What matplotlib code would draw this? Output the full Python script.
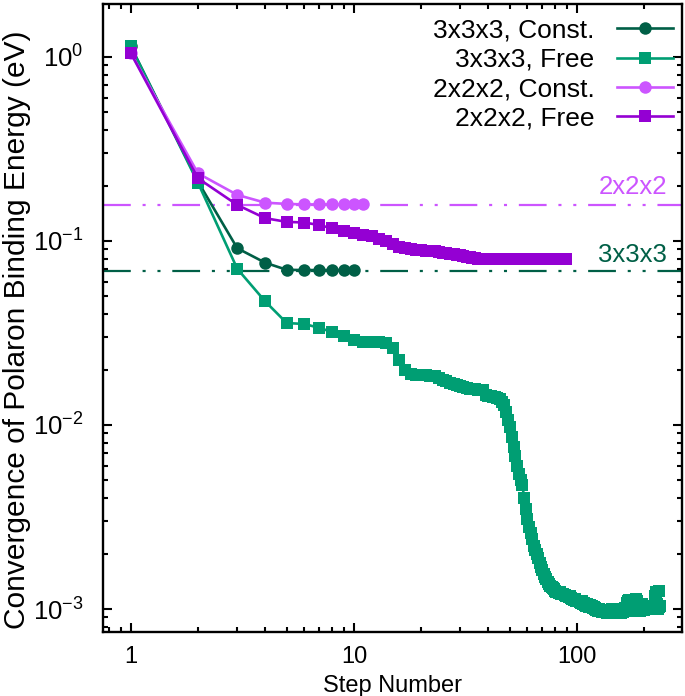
import numpy as np
import matplotlib
matplotlib.use("Agg")
import matplotlib.pyplot as plt
from matplotlib.ticker import LogLocator, NullFormatter, FixedLocator, FixedFormatter

plt.rcParams['font.family'] = ['Liberation Sans', 'DejaVu Sans']
plt.rcParams['mathtext.fontset'] = 'custom'
plt.rcParams['mathtext.rm'] = 'Liberation Sans'
plt.rcParams['mathtext.it'] = 'Liberation Sans'
plt.rcParams['lines.scale_dashes'] = False

# ---------------- data ----------------
labels = ["3x3x3, Const.", "3x3x3, Free", "2x2x2, Const.", "2x2x2, Free"]

const_333 = [1.14, 0.210, 0.0913, 0.0762, 0.0697, 0.0695, 0.0695, 0.0695, 0.0695, 0.0695]

free_333 = [
    1.14, 0.207, 0.0706, 0.047, 0.0358, 0.0354, 0.0337, 0.0320, 0.0303, 0.0290,
    0.0283, 0.0282, 0.0281, 0.0278, 0.0262, 0.0226, 0.0199, 0.0190, 0.0188, 0.0187,
    0.0186, 0.0185, 0.0184, 0.0181, 0.0176, 0.0174, 0.0170, 0.0166, 0.0164, 0.0163,
    0.0160, 0.0158, 0.0157, 0.0156, 0.0156, 0.0155, 0.0155, 0.0154, 0.0146, 0.0144,
    0.0143, 0.0142, 0.0142, 0.0141, 0.0139, 0.0134, 0.0128, 0.0117, 0.0107, 0.0097,
    0.0086, 0.0076, 0.0068, 0.0060, 0.0054, 0.0050, 0.0047, 0.0040, 0.0035, 0.0031,
    0.0028, 0.0026, 0.0024, 0.0022, 0.00209, 0.0020, 0.0019, 0.00178, 0.0017, 0.00163,
    0.00155, 0.0015, 0.00145, 0.0014, 0.00136, 0.00133, 0.00131, 0.0013, 0.00128, 0.00126,
    0.00124, 0.00123, 0.00122, 0.00123, 0.00121, 0.00120, 0.00121, 0.00119, 0.00118, 0.00118,
    0.00117, 0.00116, 0.00117, 0.00115, 0.00114, 0.00113, 0.00112, 0.00113, 0.00111, 0.00110,
    0.00110, 0.00111, 0.00109, 0.00108, 0.00110, 0.00107, 0.00106, 0.00108, 0.00105, 0.00104,
    0.00106, 0.00104, 0.00103, 0.00105, 0.00103, 0.00102, 0.00104, 0.00101, 0.00102, 0.00100,
    0.00101, 0.00099, 0.00100, 0.00098, 0.00100, 0.00099, 0.00097, 0.00099, 0.00098, 0.00096,
    0.00098, 0.00097, 0.00099, 0.00096, 0.00098, 0.00097, 0.00095, 0.00097, 0.00099, 0.00098,
    0.00096, 0.00098, 0.00100, 0.00097, 0.00096, 0.00098, 0.00099, 0.00097, 0.00095, 0.00097,
    0.00098, 0.00100, 0.00099, 0.00097, 0.00096, 0.00098, 0.00095, 0.00097, 0.00099, 0.00098,
    0.00096, 0.00097, 0.00099, 0.00101, 0.00098, 0.00100, 0.00104, 0.00108, 0.00111, 0.00109,
    0.00112, 0.00110, 0.00107, 0.00105, 0.00103, 0.00101, 0.00099, 0.00097, 0.00099, 0.00101,
    0.00103, 0.00105, 0.00108, 0.00111, 0.00113, 0.00110, 0.00107, 0.00104, 0.00101, 0.00098,
    0.00097, 0.00099, 0.00102, 0.00105, 0.00107, 0.00104, 0.00102, 0.00100, 0.00099, 0.00101,
    0.00103, 0.00102, 0.00104, 0.00101, 0.00100, 0.00102, 0.00104, 0.00103, 0.00101, 0.00100,
    0.00102, 0.00101, 0.00103, 0.00102, 0.00100, 0.00102, 0.00101, 0.00103, 0.00104, 0.00102,
    0.00101, 0.00103, 0.00102, 0.00104, 0.00118, 0.00124, 0.00121, 0.00106, 0.00103, 0.00101,
    0.00102, 0.00100, 0.00103, 0.00125, 0.00104,
]

const_222 = [1.05, 0.233, 0.178, 0.1615, 0.159, 0.158, 0.158, 0.158, 0.158, 0.158, 0.158]

free_222 = [
    1.047, 0.219, 0.157, 0.133, 0.127, 0.126, 0.122, 0.117, 0.114, 0.111,
    0.108, 0.1065, 0.103, 0.100, 0.096, 0.093, 0.0915, 0.0905, 0.0895, 0.0890,
    0.0887, 0.0884, 0.0880, 0.0872, 0.0862, 0.0855, 0.0850, 0.0846, 0.0842, 0.0835,
    0.0826, 0.0820, 0.0815, 0.0810, 0.0806, 0.0803, 0.0800, 0.0799, 0.0798, 0.0798,
    0.0797, 0.0797, 0.0797, 0.0797, 0.0797, 0.0796, 0.0797, 0.0796, 0.0796, 0.0796,
    0.0796, 0.0796, 0.0796, 0.0796, 0.0796, 0.0796, 0.0795, 0.0796, 0.0795, 0.0795,
    0.0795, 0.0795, 0.0795, 0.0795, 0.0795, 0.0795, 0.0795, 0.0795, 0.0795, 0.0795,
    0.0795, 0.0795, 0.0795, 0.0795, 0.0795, 0.0795, 0.0795, 0.0795, 0.0795, 0.0795,
    0.0795, 0.0795, 0.0795, 0.0795, 0.0795, 0.0795, 0.0795, 0.0795, 0.0795,
]

ref_222 = 0.157
ref_333 = 0.069
ref_labels = ["2x2x2", "3x3x3"]

xtick_vals = [1, 10, 100]
xtick_labels = ["1", "10", "100"]

# ---------------- styles ----------------
c_dark = '#005f46'
c_teal = '#009e73'
c_lpur = '#cc55ff'
c_pur = '#9400d3'

fig = plt.figure(figsize=(6.85, 6.96), dpi=100)
ax = fig.add_axes([103/685, 1 - 632/696, (682-103)/685, (632-4)/696])

dash = (0, (20, 8.5, 2.2, 8.5, 2.2, 8.5))
ax.axhline(ref_222, color=c_lpur, lw=1.6, linestyle=dash, dash_capstyle='butt', zorder=1)
ax.axhline(ref_333, color=c_dark, lw=1.6, linestyle=dash, dash_capstyle='butt', zorder=1)

series = [
    (const_333, c_dark, 'o'),
    (free_333, c_teal, 's'),
    (const_222, c_lpur, 'o'),
    (free_222, c_pur, 's'),
]
for (vals, col, mk), lab in zip(series, labels):
    xs = np.arange(1, len(vals) + 1)
    ax.plot(xs, vals, color=col, marker=mk, markersize=9, markeredgewidth=0,
            lw=1.9, label=lab, zorder=2)

ax.set_xscale('log')
ax.set_yscale('log')
ax.set_xlim(0.75, 296)
ax.set_ylim(7.5e-4, 1.94)

ax.xaxis.set_major_locator(FixedLocator(xtick_vals))
ax.xaxis.set_major_formatter(FixedFormatter(xtick_labels))
ax.xaxis.set_minor_locator(LogLocator(base=10, subs=np.arange(2, 10), numticks=20))
ax.xaxis.set_minor_formatter(NullFormatter())
ax.yaxis.set_major_locator(LogLocator(base=10, numticks=10))
ax.yaxis.set_minor_locator(LogLocator(base=10, subs=np.arange(2, 10), numticks=20))
ax.yaxis.set_minor_formatter(NullFormatter())

ax.tick_params(which='both', direction='in', top=True, right=True, width=1.5)
ax.tick_params(which='major', length=6.5)
ax.tick_params(which='minor', length=3.6)
ax.tick_params(axis='x', which='major', pad=10, labelsize=17)
ax.tick_params(axis='y', which='major', pad=14, labelsize=18.5)
for s in ax.spines.values():
    s.set_linewidth(1.7)

ax.set_xlabel("Step Number", fontsize=17, labelpad=5)
ax.set_ylabel("Convergence of Polaron Binding Energy (eV)", fontsize=21.5)
ax.yaxis.set_label_coords(-0.124, 0.481)

ax.annotate(ref_labels[0], xy=(253, ref_222), xytext=(0, 8), textcoords='offset points',
            ha='right', va='baseline', color=c_lpur, fontsize=18.5)
ax.annotate(ref_labels[1], xy=(253, ref_333), xytext=(0, 6.5), textcoords='offset points',
            ha='right', va='baseline', color=c_dark, fontsize=18.5)

leg = ax.legend(loc='upper right', frameon=False, markerfirst=False, fontsize=19,
                handlelength=2.15, handletextpad=0.85, labelspacing=0.2,
                borderaxespad=0.35, borderpad=0.2,
                bbox_to_anchor=(1 + 6/579, 1))
for t in leg.get_texts():
    t.set_ha('right')

fig.savefig('out.png', dpi=100)
